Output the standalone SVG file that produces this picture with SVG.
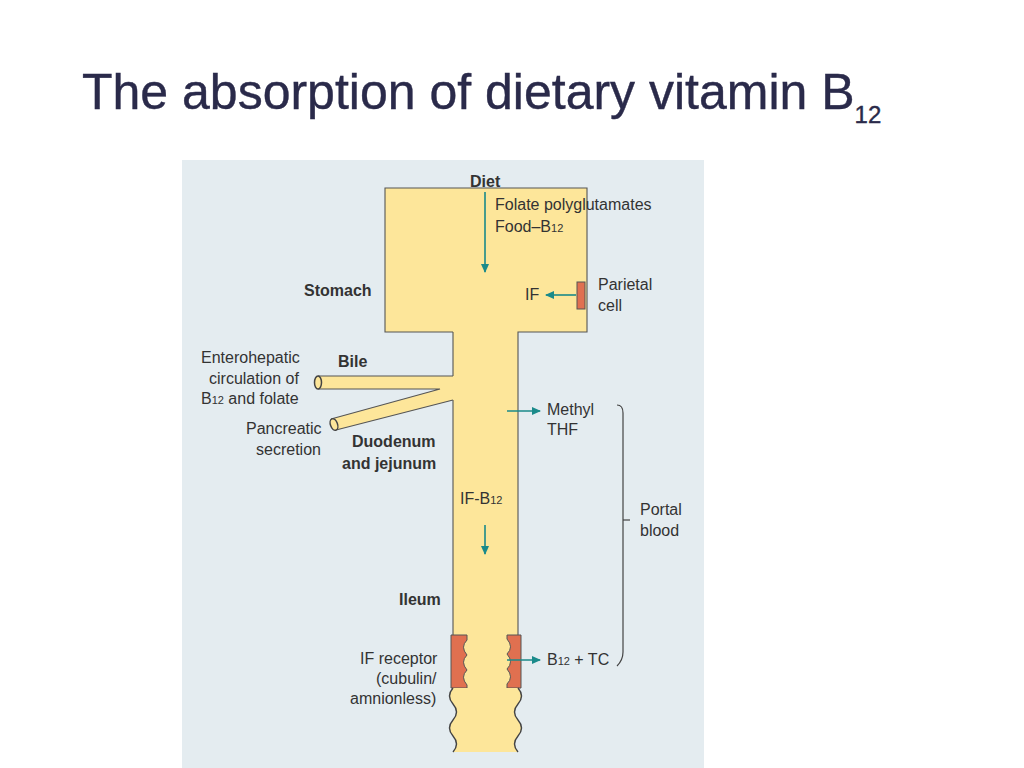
<svg xmlns="http://www.w3.org/2000/svg" width="1024" height="768" viewBox="0 0 1024 768">
<defs>
<style>
.t{font-family:"Liberation Sans",Arial,sans-serif;font-size:16px;fill:#333}
.b{font-weight:bold}
.ar{stroke:#1a8a8a;stroke-width:1.6;fill:none}
.ol{stroke:#555;stroke-width:1.1;fill:none}
</style>
<marker id="ah" markerWidth="10" markerHeight="10" refX="8" refY="5" orient="auto" markerUnits="userSpaceOnUse"><path d="M0,1 L9,5 L0,9 Z" fill="#1a8a8a"/></marker>
</defs>
<rect width="1024" height="768" fill="#fff"/>
<text x="82" y="109" font-family="Liberation Sans,Arial,sans-serif" font-size="50" fill="#2a2a4a" stroke="#2a2a4a" stroke-width="0.4">The absorption of dietary vitamin B<tspan font-size="24" dy="14">12</tspan></text>
<rect x="182" y="160" width="522" height="608" fill="#e4ecf0"/>
<g id="gut">
<path d="M385,188 H587 V332 H518 V752 H453 V332 H385 Z" fill="#fde69a"/>
<path d="M453,332 H385 V188 H587 V332 H518 V688 M453,332 V376 M453,400 V688" class="ol"/>
<path d="M318,376 H453 V400 L336,430 L331,419 L440,389 H318 Z" fill="#fde69a"/>
<path d="M318,376 H453 M318,389 H440 L331,419 M336,430 L453,400" class="ol"/>
<ellipse cx="318" cy="382.5" rx="3.5" ry="6.5" fill="#fde69a" stroke="#444" stroke-width="1.5"/>
<ellipse cx="334" cy="424.5" rx="3.5" ry="6" fill="#fde69a" stroke="#444" stroke-width="1.5" transform="rotate(-20 334 424.5)"/>
<rect x="577" y="282" width="8" height="27" fill="#e07050" stroke="#555"/>
<path d="M451,635 H467 V640 q-7,7 0,15 q-7,7 0,15 q-7,7 0,15 V688 H451 Z" fill="#e07050" stroke="#555"/>
<path d="M507,635 H521 V688 H507 V684 q7,-7 0,-15 q7,-7 0,-15 q7,-7 0,-15 Z" fill="#e07050" stroke="#555"/>
<rect x="440" y="689" width="16" height="64" fill="#e4ecf0"/>
<rect x="515" y="689" width="10" height="64" fill="#e4ecf0"/>
<path d="M453,688 q-7,8 0,16 q7,8 0,16 q-7,8 0,16 q7,8 0,16 H518 q-7,-8 0,-16 q7,-8 0,-16 q-7,-8 0,-16 q7,-8 0,-16 Z" fill="#fde69a"/>
<path d="M453,688 q-7,8 0,16 q7,8 0,16 q-7,8 0,16 q7,8 0,16 M518,752 q-7,-8 0,-16 q7,-8 0,-16 q-7,-8 0,-16 q7,-8 0,-16" stroke="#444" stroke-width="1.4" fill="none"/>
</g>
<g id="connectors">
<path d="M485,192 V272" class="ar" marker-end="url(#ah)"/>
<path d="M576,295 H546" class="ar" marker-end="url(#ah)"/>
<path d="M507,411 H540" class="ar" marker-end="url(#ah)"/>
<path d="M485,525 V554" class="ar" marker-end="url(#ah)"/>
<path d="M507,660 H540" class="ar" marker-end="url(#ah)"/>
<path d="M617,405 q6,0 6,8 V652 q0,8 -6,14" stroke="#444" fill="none" stroke-width="1.2"/>
<path d="M623,520 H630" stroke="#444" stroke-width="1.2"/>
</g>
<g id="labels">
<text class="t b" x="470" y="187">Diet</text>
<text class="t" x="495" y="210">Folate polyglutamates</text>
<text class="t" x="495" y="232">Food–B<tspan font-size="11">12</tspan></text>
<text class="t b" x="304" y="296">Stomach</text>
<text class="t" x="525" y="300">IF</text>
<text class="t" x="598" y="290">Parietal</text>
<text class="t" x="598" y="311">cell</text>
<text class="t" x="201" y="363">Enterohepatic</text>
<text class="t" x="209" y="384">circulation of</text>
<text class="t" x="201" y="404">B<tspan font-size="11">12</tspan> and folate</text>
<text class="t b" x="338" y="367">Bile</text>
<text class="t" x="246" y="434">Pancreatic</text>
<text class="t" x="256" y="455">secretion</text>
<text class="t b" x="352" y="447">Duodenum</text>
<text class="t b" x="342" y="469">and jejunum</text>
<text class="t" x="547" y="415">Methyl</text>
<text class="t" x="547" y="435">THF</text>
<text class="t" x="460" y="504">IF-B<tspan font-size="11">12</tspan></text>
<text class="t" x="640" y="515">Portal</text>
<text class="t" x="640" y="536">blood</text>
<text class="t b" x="399" y="605">Ileum</text>
<text class="t" x="360" y="664">IF receptor</text>
<text class="t" x="376" y="684">(cubulin/</text>
<text class="t" x="350" y="704">amnionless)</text>
<text class="t" x="547" y="665">B<tspan font-size="11">12</tspan> + TC</text>
</g>
</svg>
